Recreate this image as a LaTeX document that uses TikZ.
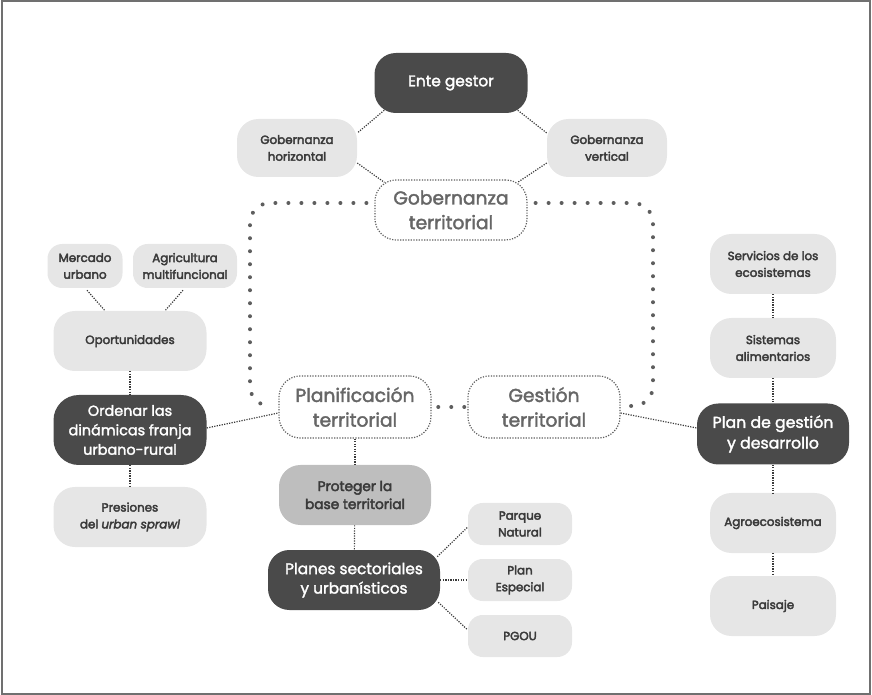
\documentclass[tikz,border=0pt]{standalone}
\usepackage{fontspec}
\setmainfont{Poppins}
\newfontfamily\semifont{Poppins}[FakeBold=3.2]
\newfontfamily\medfont{Poppins}[FakeBold=2]
\definecolor{cDark}{HTML}{4A4A4A}
\definecolor{cLight}{HTML}{E6E6E6}
\definecolor{cMid}{HTML}{BEBEBE}
\definecolor{cLabel}{HTML}{3A3A3A}
\definecolor{cTitle}{HTML}{666666}
\definecolor{cDots}{HTML}{5E5E5E}
\definecolor{cFrame}{HTML}{707070}

\begin{document}
\begin{tikzpicture}[x=0.75pt, y=-0.75pt,
  box/.style={rectangle, rounded corners=16pt, inner sep=0pt, align=center},
  darkbox/.style={box, fill=cDark, text=white, font=\medfont\fontsize{11.5}{14.6}\selectfont},
  lightbox/.style={box, fill=cLight, text=cLabel, font=\semifont\fontsize{8.9}{12.6}\selectfont},
  midbox/.style={box, fill=cMid, text=cLabel, font=\semifont\fontsize{10.3}{13.5}\selectfont},
  titlebox/.style={box, rounded corners=16pt, fill=white, draw=cDots, line width=0.9pt,
    dash pattern=on 0.9pt off 1.1pt, text=cTitle, font=\medfont\fontsize{14}{18.5}\selectfont},
  link/.style={draw=cLabel, line width=0.9pt, dash pattern=on 0.9pt off 1pt},
  bigdots/.style={draw=cDots, line width=3pt, line cap=round, dash pattern=on 0pt off 9.75pt},
  wide/.style={minimum width=114.75pt, minimum height=45pt},
  col/.style={minimum width=94.5pt, minimum height=45pt}]
  \useasboundingbox (0,0) rectangle (872,695);
  \draw[cFrame, line width=1.1pt] (2,1) rectangle (870,694);

  \node[darkbox, wide] (ente) at (451,83) {Ente gestor};
  \node[lightbox, minimum width=90pt, minimum height=43.5pt] (gobh) at (297,148) {Gobernanza\\horizontal};
  \node[lightbox, minimum width=90pt, minimum height=43.5pt] (gobv) at (607,148) {Gobernanza\\vertical};
  \node[titlebox, minimum width=114pt, minimum height=45pt] (gobt) at (451,210) {Gobernanza\\territorial};
  \node[titlebox, minimum width=114pt, minimum height=46.5pt] (planif) at (355,407) {Planificación\\territorial};
  \node[titlebox, minimum width=114pt, minimum height=46.5pt] (gestion) at (544,407) {Gestión\\territorial};

  \node[lightbox, rounded corners=11pt, minimum width=56.25pt, minimum height=33pt] (mercado) at (85,266) {Mercado\\urbano};
  \node[lightbox, rounded corners=11pt, minimum width=78pt, minimum height=33pt] (agri) at (185,266) {Agricultura\\multifuncional};
  \node[lightbox, wide] (opor) at (130,341) {Oportunidades};
  \node[darkbox, rounded corners=19pt, minimum width=114.75pt, minimum height=52.5pt, font=\medfont\fontsize{10.8}{14.6}\selectfont] (ordenar) at (130,430) {Ordenar las\\dinámicas franja\\urbano-rural};
  \node[lightbox, wide] (presion) at (130,517) {Presiones\\del \textit{urban sprawl}};

  \node[midbox, minimum width=114pt, minimum height=45pt] (proteger) at (355,495) {Proteger la\\base territorial};
  \node[darkbox, minimum width=129pt, minimum height=45pt] (planes) at (354,580) {Planes sectoriales\\y urbanísticos};
  \node[lightbox, rounded corners=11pt, minimum width=78pt, minimum height=31.5pt] (parque) at (520,524) {Parque\\Natural};
  \node[lightbox, rounded corners=11pt, minimum width=78pt, minimum height=31.5pt] (especial) at (520,580) {Plan\\Especial};
  \node[lightbox, rounded corners=11pt, minimum width=78pt, minimum height=31.5pt] (pgou) at (520,636) {PGOU};

  \node[lightbox, col] (servicios) at (773,264) {Servicios de los\\ecosistemas};
  \node[lightbox, col] (sistemas) at (773,348) {Sistemas\\alimentarios};
  \node[darkbox, minimum width=114pt, minimum height=45.75pt, font=\medfont\fontsize{11.8}{15.5}\selectfont] (plangd) at (773,434) {Plan de gestión\\y desarrollo};
  \node[lightbox, col] (agro) at (773,523) {Agroecosistema};
  \node[lightbox, col] (paisaje) at (773,606) {Paisaje};

  \draw[link] ([shift={(10,-3)}]ente.south west) -- ([shift={(0,-15)}]gobh.east);
  \draw[link] ([shift={(-10,-3)}]ente.south east) -- ([shift={(0,-15)}]gobv.west);
  \draw[link] ([shift={(0,15)}]gobh.east) -- ([shift={(10,3)}]gobt.north west);
  \draw[link] ([shift={(0,15)}]gobv.west) -- ([shift={(-10,3)}]gobt.north east);

  \draw[bigdots, rounded corners=15pt] ([shift={(-8,-7)}]gobt.west) -- (250,203) -- (250,406) -- ([shift={(-7,-1)}]planif.west);
  \draw[bigdots, rounded corners=15pt] ([shift={(8,-7)}]gobt.east) -- (653,203) -- (653,406) -- ([shift={(7,-1)}]gestion.east);
  \draw[bigdots] ([xshift=5]planif.east) -- (gestion.west);

  \draw[link] ([shift={(2,2)}]mercado.south) -- ([shift={(-25,0)}]opor.north);
  \draw[link] ([shift={(-2,2)}]agri.south) -- ([shift={(35,0)}]opor.north);
  \draw[link] (opor) -- (ordenar);
  \draw[link] (ordenar) -- (presion);
  \draw[link] ([shift={(0,-2)}]ordenar.east) -- ([shift={(0,6)}]planif.west);

  \draw[link] (planif) -- (proteger);
  \draw[link] (proteger) -- (planes);
  \draw[link] ([shift={(-3,7)}]planes.north east) -- ([shift={(0,3)}]parque.west);
  \draw[link] (planes) -- (especial);
  \draw[link] ([shift={(-2,-8)}]planes.south east) -- ([shift={(0,-6)}]pgou.west);

  \draw[link] ([shift={(0,6)}]gestion.east) -- ([shift={(0,-6)}]plangd.west);
  \draw[link] (servicios) -- (sistemas);
  \draw[link] (sistemas) -- (plangd);
  \draw[link] (plangd) -- (agro);
  \draw[link] (agro) -- (paisaje);
\end{tikzpicture}
\end{document}
